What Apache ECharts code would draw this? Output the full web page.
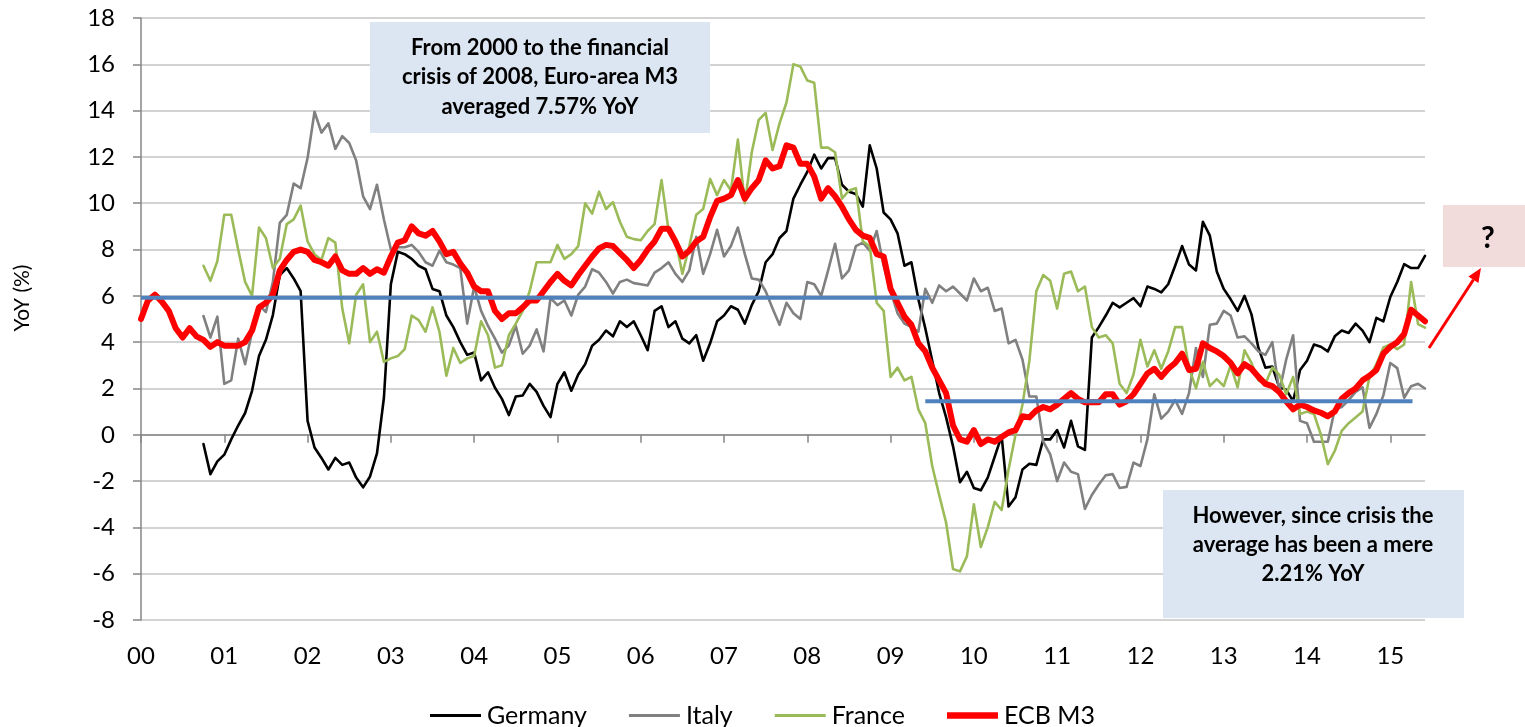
<!DOCTYPE html>
<html><head><meta charset="utf-8">
<script src="https://cdn.jsdelivr.net/npm/echarts@6/dist/echarts.min.js"></script>
<style>html,body{margin:0;padding:0;background:#fff}#c{width:1525px;height:727px}</style>
</head><body><div id="c"></div>
<script>
// Monthly data, Jan 2000 (index 0) to Jun 2015 (index 185)
const yearLabels = ['00','01','02','03','04','05','06','07','08','09','10','11','12','13','14','15'];
const yTicks = [-8, 18, 2]; // min, max, step

const germany = [
  null,null,null,null,null,null,null,null,null,-0.4,-1.7,-1.15,
  -0.86,-0.2,0.4,0.94,1.9,3.4,4.1,5.17,6.9,7.2,6.75,6.2,
  0.6,-0.55,-1.0,-1.5,-1.0,-1.3,-1.2,-1.85,-2.27,-1.8,-0.8,1.6,
  6.5,7.9,7.8,7.6,7.3,7.15,6.3,6.2,5.15,4.65,4.0,3.45,
  3.55,2.35,2.7,2.03,1.55,0.85,1.65,1.7,2.2,1.85,1.25,0.76,
  2.2,2.7,1.9,2.6,3.05,3.85,4.1,4.5,4.25,4.9,4.65,4.9,
  4.3,3.65,5.35,5.55,4.65,4.9,4.15,3.95,4.3,3.2,3.95,4.9,
  5.15,5.55,5.4,4.8,5.6,6.2,7.45,7.8,8.5,8.8,10.2,10.8,
  11.35,12.1,11.5,11.95,11.95,10.8,10.5,10.4,9.85,12.5,11.5,9.6,
  9.3,8.7,7.3,7.45,5.85,4.6,3.2,1.8,0.75,-0.5,-2.05,-1.6,
  -2.3,-2.4,-1.85,-0.95,-0.05,-3.1,-2.7,-1.5,-1.25,-1.3,-0.2,-0.2,
  0.2,-0.55,0.6,-0.5,-0.65,4.2,4.65,5.15,5.7,5.5,5.7,5.9,
  5.55,6.4,6.3,6.15,6.5,7.3,8.15,7.35,7.1,9.2,8.6,7.05,
  6.3,5.85,5.35,6.0,5.2,3.75,2.9,2.95,2.05,1.95,1.45,2.8,
  3.2,3.9,3.8,3.6,4.25,4.5,4.4,4.8,4.5,4.0,5.05,4.9,
  5.95,6.6,7.37,7.2,7.2,7.73
];
const italy = [
  null,null,null,null,null,null,null,null,null,5.13,4.2,5.1,
  2.2,2.35,4.15,3.05,4.45,5.6,5.3,6.6,9.15,9.5,10.85,10.65,
  11.95,13.95,13.05,13.45,12.35,12.9,12.6,11.85,10.3,9.75,10.8,9.3,
  8.0,8.1,8.1,8.2,7.9,7.45,7.3,7.95,7.45,7.35,7.2,4.8,
  6.4,5.35,4.7,4.15,3.55,3.85,4.7,3.5,3.85,4.55,3.6,5.9,
  5.6,5.8,5.15,6.05,6.4,7.15,7.0,6.6,6.1,6.6,6.7,6.55,
  6.5,6.45,7.0,7.2,7.45,6.95,6.6,7.1,8.55,6.95,7.8,8.85,
  7.7,8.15,8.95,7.8,6.75,6.7,6.2,5.45,4.75,5.7,5.25,5.0,
  6.6,6.5,6.0,7.1,8.25,6.75,7.1,8.15,8.3,7.95,8.8,7.3,
  6.2,5.25,4.8,4.65,4.45,6.3,5.7,6.45,6.2,6.4,6.1,5.8,
  6.75,6.2,6.35,5.35,5.45,3.95,4.1,3.25,1.65,1.65,-0.3,-0.85,
  -2.0,-1.2,-1.6,-1.7,-3.2,-2.6,-2.15,-1.75,-1.7,-2.3,-2.25,-1.2,
  -1.35,-0.2,1.75,0.7,1.0,1.5,0.9,1.8,3.75,2.5,4.75,4.8,
  5.35,5.15,4.2,4.25,3.95,3.6,3.45,4.0,1.85,3.25,4.3,0.6,
  0.5,-0.3,-0.3,-0.3,1.1,1.2,1.5,1.85,2.05,0.3,0.9,1.7,
  3.1,2.88,1.6,2.1,2.2,2.0
];
const france = [
  null,null,null,null,null,null,null,null,null,7.3,6.65,7.5,
  9.5,9.5,8.0,6.6,6.0,8.95,8.5,7.2,7.6,9.1,9.3,9.9,
  8.35,7.8,7.55,8.5,8.3,5.45,3.95,6.05,6.5,4.0,4.45,3.15,
  3.3,3.4,3.7,5.15,4.95,4.45,5.5,4.45,2.55,3.75,3.1,3.3,
  3.4,4.9,4.3,2.9,3.0,4.3,4.8,5.35,6.2,7.45,7.45,7.45,
  8.2,7.6,7.8,8.15,10.0,9.55,10.5,9.75,10.05,9.2,8.55,8.45,
  8.4,8.8,9.1,11.0,8.85,8.45,6.95,8.15,9.5,9.75,11.05,10.35,
  11.0,10.55,12.75,10.0,12.2,13.6,13.9,12.3,13.45,14.35,16.0,15.9,
  15.3,15.2,12.4,12.4,12.2,10.2,10.55,10.65,8.35,8.15,5.7,5.35,
  2.5,2.9,2.35,2.5,1.1,0.5,-1.35,-2.6,-3.8,-5.8,-5.9,-5.25,
  -3.0,-4.85,-4.0,-2.9,-3.25,-1.5,0.0,1.3,3.2,6.2,6.9,6.65,
  5.45,6.95,7.05,6.2,6.4,4.65,4.2,4.3,3.95,2.2,1.8,2.6,
  4.1,2.95,3.65,2.85,3.6,4.65,4.65,2.9,2.0,3.15,2.1,2.4,
  2.1,3.0,2.05,3.65,3.1,2.35,2.2,2.9,2.6,1.75,2.5,0.9,
  1.0,0.9,0.0,-1.27,-0.7,0.17,0.5,0.75,1.0,2.5,3.05,3.77,
  3.9,3.7,3.9,6.6,4.78,4.63
];
const ecbM3 = [
  5.0,5.8,6.05,5.75,5.35,4.6,4.2,4.6,4.25,4.1,3.8,4.0,
  3.85,3.85,3.85,4.0,4.5,5.5,5.7,6.05,7.1,7.55,7.9,8.0,
  7.9,7.55,7.45,7.3,7.7,7.1,6.95,6.95,7.2,6.95,7.15,7.0,
  7.7,8.3,8.4,9.0,8.7,8.6,8.8,8.35,7.8,7.9,7.4,7.0,
  6.4,6.2,6.2,5.35,5.0,5.25,5.25,5.5,5.8,5.8,6.2,6.6,
  6.95,6.65,6.45,6.9,7.3,7.7,8.05,8.2,8.15,7.85,7.55,7.2,
  7.55,8.0,8.35,8.9,8.9,8.35,7.7,7.95,8.35,8.55,9.4,10.1,
  10.2,10.35,11.0,10.2,10.65,11.0,11.85,11.5,11.6,12.5,12.4,11.7,
  11.7,11.15,10.2,10.65,10.3,9.85,9.3,8.85,8.6,8.5,7.8,7.7,
  6.3,5.7,5.1,4.75,3.95,3.6,2.9,2.35,1.8,0.4,-0.2,-0.3,
  0.2,-0.4,-0.2,-0.3,-0.1,0.1,0.2,0.8,0.75,1.05,1.2,1.1,
  1.3,1.55,1.8,1.55,1.4,1.4,1.4,1.75,1.75,1.3,1.45,1.75,
  2.2,2.65,2.85,2.5,2.85,3.1,3.5,2.8,2.85,3.95,3.75,3.6,
  3.4,3.1,2.65,3.05,2.85,2.5,2.2,2.1,1.85,1.45,1.1,1.3,
  1.2,1.05,0.95,0.8,1.0,1.55,1.8,2.0,2.35,2.55,2.8,3.5,
  3.8,4.0,4.35,5.4,5.15,4.9
];
// drawn average guide lines: [startMonth, endMonth, level]
const preCrisisLine = [0, 113.5, 5.92];
const postCrisisLine = [113, 183.2, 1.45];

const seriesNames = ['Germany','Italy','France','ECB M3'];
const noteTop = 'From 2000 to the financial\ncrisis of 2008, Euro-area M3\naveraged 7.57% YoY';
const noteBottom = 'However, since crisis the\naverage has been a mere\n2.21% YoY';
const noteQ = '?';

const lastMonth = ecbM3.length - 1;
const tickMonths = yearLabels.map((_, i) => i * 12);
const FONT = 'Lato';
const pairs = arr => arr.map((v, i) => [i, v]);
const seg = s => [[s[0], s[2]], [s[1], s[2]]];
// legend icon: a horizontal bar of a given thickness inside a 51x14 box
const barIcon = t => {
  const a = (14 - t) / 2, b = a + t;
  return 'path://M0,0L0.01,0L0,0.01Z M51,14L50.99,14L51,13.99Z M0,' + a + 'H51V' + b + 'H0Z';
};

const chart = echarts.init(document.getElementById('c'), null, {renderer: 'canvas'});
const lineSeries = (name, data, color, width) => ({
  name, type: 'line', data: pairs(data), xAxisIndex: 0, yAxisIndex: 0,
  symbol: 'none', showSymbol: false, animation: false,
  lineStyle: {color, width, join: 'round', cap: 'round'}, itemStyle: {color},
  emphasis: {disabled: true}
});
const guide = (s) => ({
  type: 'line', data: seg(s), symbol: 'none', silent: true, animation: false,
  lineStyle: {color: '#4f81bd', width: 4}, z: 5, emphasis: {disabled: true}
});
const legendThickness = [3, 3, 3, 6.5];

chart.setOption({
  animation: false,
  backgroundColor: '#ffffff',
  grid: {left: 141, right: 100, top: 18, bottom: 107, containLabel: false},
  legend: {
    data: seriesNames.map((n, i) => ({name: n, icon: barIcon(legendThickness[i])})),
    left: 'center', top: 698, itemWidth: 51, itemHeight: 14, itemGap: 42,
    textStyle: {fontFamily: FONT, fontSize: 25, color: '#000', padding: [0, 0, 0, 1]}
  },
  xAxis: [
    {
      type: 'value', min: 0, max: lastMonth, interval: 12, position: 'bottom',
      axisLine: {show: false, onZero: false}, axisTick: {show: false}, splitLine: {show: false},
      axisLabel: {
        customValues: tickMonths, margin: 24,
        fontFamily: FONT, fontSize: 24, color: '#000',
        formatter: v => (v % 12 === 0 ? yearLabels[v / 12] : '')
      }
    },
    {
      type: 'value', min: 0, max: lastMonth, interval: 12, position: 'bottom',
      axisLine: {show: true, onZero: true, lineStyle: {color: '#868686', width: 1.5}},
      axisTick: {show: true, customValues: tickMonths, length: 8, inside: false, lineStyle: {color: '#868686', width: 1.5}},
      axisLabel: {show: false}, splitLine: {show: false}
    }
  ],
  yAxis: {
    type: 'value', min: yTicks[0], max: yTicks[1], interval: yTicks[2],
    axisLine: {show: true, lineStyle: {color: '#868686', width: 1.5}},
    axisTick: {show: true, length: 8, lineStyle: {color: '#868686', width: 1.5}},
    axisLabel: {margin: 26, fontFamily: FONT, fontSize: 24, color: '#000'},
    splitLine: {show: true, lineStyle: {color: '#c4c4c4', width: 1.5}}
  },
  series: [
    lineSeries('Germany', germany, '#000000', 2.6),
    lineSeries('Italy', italy, '#808080', 2.6),
    lineSeries('France', france, '#9bbb59', 2.6),
    lineSeries('ECB M3', ecbM3, '#ff0000', 6),
    guide(preCrisisLine),
    guide(postCrisisLine)
  ],
  graphic: [
    {type: 'text', x: 22, y: 298, rotation: Math.PI / 2, style: {text: 'YoY (%)', fontFamily: FONT, fontSize: 21, fill: '#000', align: 'center', verticalAlign: 'middle'}},
    {type: 'rect', shape: {x: 370, y: 22, width: 340, height: 111}, style: {fill: '#dce6f2'}, z: 10},
    {type: 'text', x: 540, y: 77, z: 11, style: {text: noteTop, fontFamily: FONT, fontWeight: 'bold', fontSize: 22, lineHeight: 29.5, fill: '#000', align: 'center', verticalAlign: 'middle'}},
    {type: 'rect', shape: {x: 1163, y: 490, width: 301, height: 128}, style: {fill: '#dce6f2'}, z: 10},
    {type: 'text', x: 1313, y: 545, z: 11, style: {text: noteBottom, fontFamily: FONT, fontWeight: 'bold', fontSize: 22, lineHeight: 29, fill: '#000', align: 'center', verticalAlign: 'middle'}},
    {type: 'rect', shape: {x: 1443, y: 205, width: 82, height: 62}, style: {fill: '#f2dcdb'}, z: 10},
    {type: 'text', x: 1488, y: 238, z: 11, style: {text: noteQ, fontFamily: FONT, fontWeight: 'bold', fontSize: 30, fill: '#000', align: 'center', verticalAlign: 'middle'}},
    {type: 'line', shape: {x1: 1429, y1: 348, x2: 1473.4, y2: 279.7}, style: {stroke: '#ff0000', lineWidth: 3}, z: 11},
    {type: 'polygon', shape: {points: [[1481, 268], [1478.4, 283.0], [1468.4, 276.4]]}, style: {fill: '#ff0000'}, z: 11}
  ]
});
</script></body></html>
